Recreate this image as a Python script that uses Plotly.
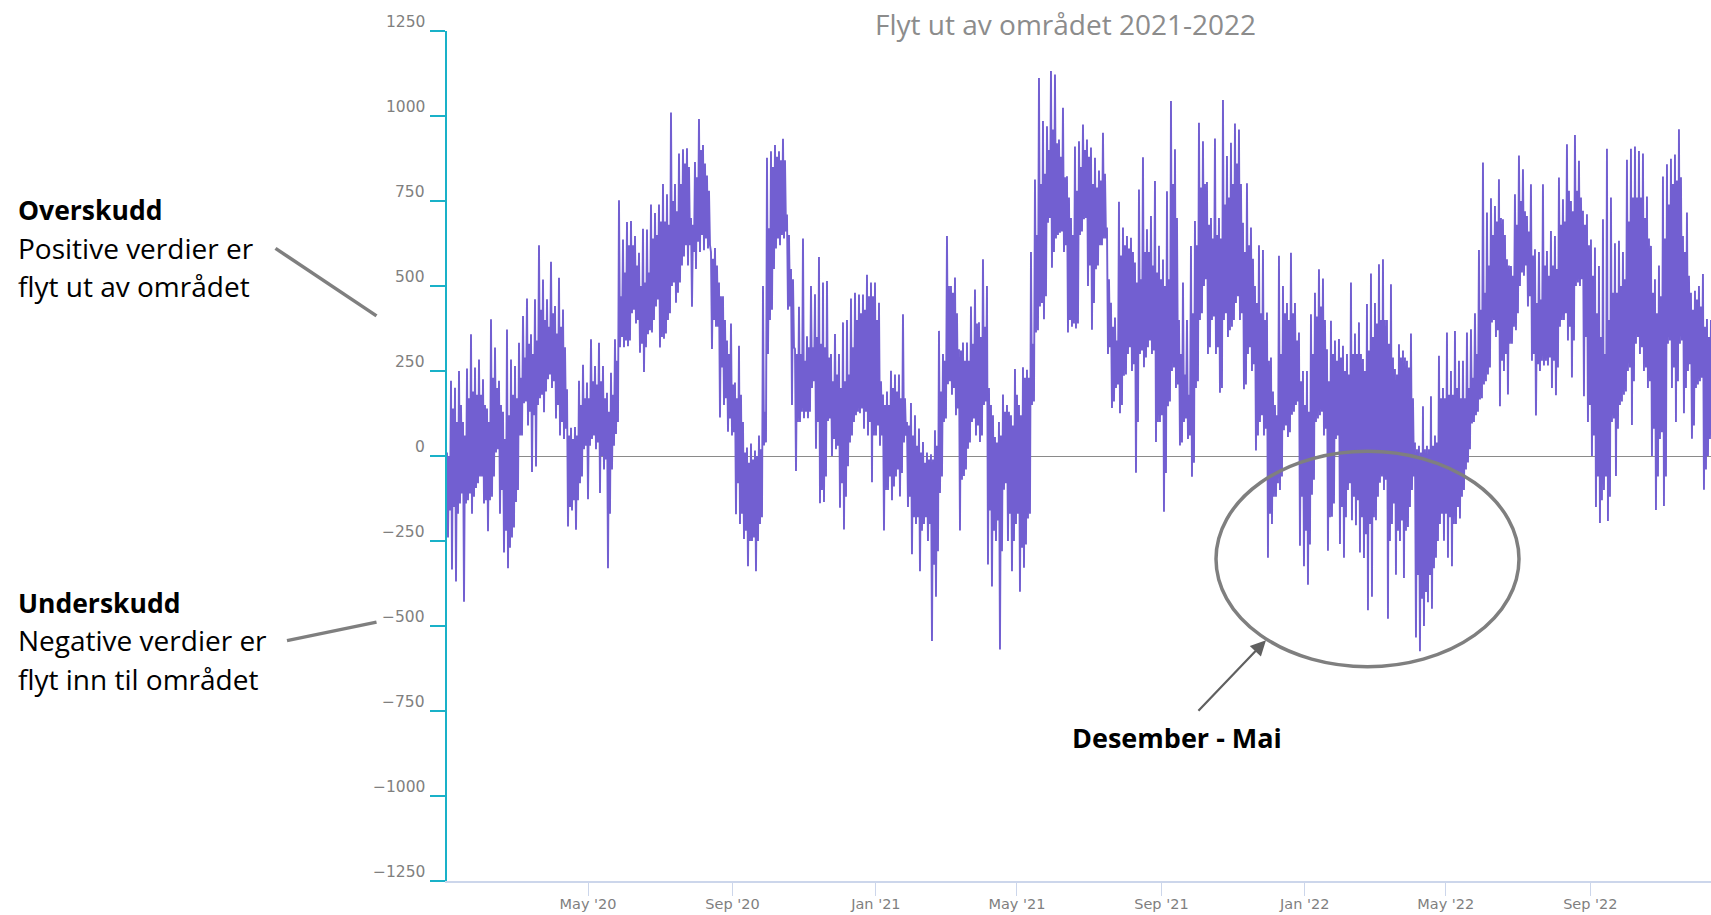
import numpy as np
import pandas as pd
import plotly.graph_objects as go

chart_title = "Flyt ut av området 2021-2022"
y_ticks = [1250, 1000, 750, 500, 250, 0, -250, -500, -750, -1000, -1250]
x_ticks = ["2020-05-01", "2020-09-01", "2021-01-01", "2021-05-01", "2021-09-01", "2022-01-01", "2022-05-01", "2022-09-01"]
x_labels = ["May '20", "Sep '20", "Jan '21", "May '21", "Sep '21", "Jan '22", "May '22", "Sep '22"]

# Spike extremes
flow_high = [
    10,221,201,250,100,257,358,260,284,226,
    140,402,319,221,130,372,284,265,333,412,
    463,358,461,620,519,461,571,441,524,431,
    196,83,85,221,268,216,343,265,333,265,
    186,245,343,752,637,688,691,647,598,668,
    666,740,715,740,800,770,1010,800,890,902,
    905,700,865,991,915,825,600,612,510,470,
    340,390,216,324,100,25,37,16,60,500,
    877,896,915,896,933,710,550,315,439,640,
    352,500,476,585,510,515,300,359,300,393,
    400,463,480,475,475,533,510,510,451,181,
    190,251,240,240,417,100,156,120,81,41,
    10,5,76,368,300,647,500,525,314,334,
    334,440,490,393,579,500,150,56,100,181,
    150,120,256,150,261,254,600,813,1112,985,
    970,1132,1122,931,1024,823,700,910,926,975,
    931,907,877,840,951,672,451,407,748,672,
    647,642,569,784,879,667,706,809,618,578,
    779,1044,902,400,510,400,618,691,980,926,
    806,700,934,700,1047,882,921,978,960,686,
    802,672,500,620,606,422,290,150,589,500,
    450,598,450,363,250,250,417,480,549,522,
    314,398,340,344,324,300,510,360,393,285,
    447,537,450,564,579,400,505,256,329,310,
    280,360,40,30,146,30,176,60,295,200,
    363,250,368,280,280,363,373,420,606,863,
    716,758,735,814,696,579,559,770,884,843,
    706,799,608,600,799,603,662,647,819,755,
    917,750,944,868,721,711,637,613,559,696,
    904,760,626,633,600,871,904,910,897,890,
    763,618,520,560,822,858,874,887,961,647,
    716,480,486,500,535,403,400,
]
flow_low = [
    -240,-334,-369,-140,-429,-130,-170,-94,-60,-140,
    -221,-120,10,-170,-284,-330,-240,-135,60,155,
    90,-47,-31,170,129,226,200,110,60,50,
    -207,-160,-217,-80,20,-127,50,20,-109,-40,
    -330,-40,65,320,320,323,420,390,304,247,
    358,363,440,319,345,400,500,451,510,587,
    560,439,550,600,605,610,315,380,113,150,
    71,60,-171,-200,-244,-324,-250,-339,-200,31,
    300,430,610,620,640,430,150,-44,100,111,
    111,200,21,-139,-135,103,0,20,-152,-216,
    -30,60,120,126,80,60,-77,60,30,-219,
    -100,-130,-60,-119,40,-150,-289,-200,-339,-200,
    -250,-544,-414,-109,100,211,180,120,-219,-59,
    21,100,60,41,150,-319,-384,-250,-569,-99,
    -250,-339,-200,-399,-329,-184,150,363,440,402,
    686,554,640,657,600,363,380,375,650,696,
    500,371,549,620,640,300,141,200,126,236,
    300,250,-49,300,261,320,300,41,100,-164,
    146,250,200,31,100,50,-61,200,400,500,
    300,400,300,186,400,350,380,450,400,196,
    300,250,16,100,60,-299,-200,-120,-100,76,
    56,121,150,-264,-324,-379,-114,100,120,60,
    -279,-179,50,-259,-299,-100,-189,-204,-284,-300,
    -454,-414,-189,-79,-100,-479,-200,-349,-250,-359,
    -209,-100,-534,-574,-500,-430,-449,-299,-200,-249,
    -299,-324,-200,-184,-100,-19,96,120,166,210,
    240,393,350,146,250,181,330,370,500,530,
    440,280,119,250,266,266,200,179,380,400,
    340,231,500,500,176,100,0,-150,-197,-100,
    -191,100,-59,150,180,250,91,330,300,250,
    200,0,-159,50,-147,330,200,100,330,126,
    250,51,200,220,-99,0,50,
]
# Edges of the solid body of the band
body_high = [
    0,140,100,150,60,170,190,180,180,150,
    100,230,200,150,50,120,180,170,230,290,
    330,300,340,430,400,380,420,360,380,320,
    60,50,60,150,170,170,220,210,220,170,
    130,180,280,470,540,620,620,560,500,510,
    540,640,650,690,690,680,750,720,800,860,
    850,680,820,900,860,780,580,560,470,400,
    300,210,170,180,10,-20,-10,0,20,130,
    670,850,880,870,870,650,520,300,300,280,
    320,320,350,330,320,290,220,240,200,220,
    240,320,400,420,430,470,470,400,220,150,
    150,200,190,170,170,90,60,30,10,-20,
    -10,-10,30,190,280,500,480,420,310,280,
    280,330,390,350,380,200,120,40,60,130,
    130,90,180,120,230,230,330,650,800,830,
    900,960,920,880,820,760,650,780,850,900,
    880,800,790,810,830,520,380,340,590,620,
    610,600,510,520,600,600,560,540,520,500,
    520,800,700,300,240,180,420,620,790,800,
    680,640,650,640,740,760,800,860,800,600,
    620,580,450,420,400,280,190,120,300,420,
    400,420,340,220,150,130,300,410,440,400,
    220,300,280,290,250,240,300,300,300,250,
    310,350,390,400,400,330,290,240,290,290,
    260,170,20,10,20,20,30,40,170,170,
    180,180,200,170,170,200,230,300,430,480,
    560,650,690,700,650,560,530,680,750,720,
    660,590,450,460,560,530,560,550,680,690,
    780,720,780,760,680,620,530,420,350,300,
    400,480,480,500,520,690,760,760,760,700,
    640,480,420,470,640,740,800,810,820,600,
    530,430,460,440,380,350,350,
]
body_low = [
    -160,-150,-170,-110,-140,-110,-120,-80,-60,-130,
    -130,-60,20,-100,-220,-270,-210,-100,60,160,
    130,120,150,180,190,240,220,150,100,80,
    -150,-130,-130,-60,30,30,60,40,0,-10,
    -170,30,100,350,340,340,430,400,330,320,
    370,400,460,350,360,420,510,480,560,620,
    620,600,630,650,640,620,400,380,260,170,
    110,70,-80,-170,-220,-250,-240,-250,-180,40,
    400,550,640,650,660,440,320,100,130,130,
    130,220,100,-100,-60,110,50,30,-80,-120,
    40,100,130,140,130,100,60,90,60,-100,
    -60,-90,-40,-50,60,-120,-180,-180,-220,-180,
    -200,-320,-280,-60,110,220,200,140,-70,-40,
    40,110,90,60,160,-160,-220,-190,-280,-80,
    -170,-250,-170,-270,-260,-170,160,370,450,470,
    700,600,650,660,620,400,390,390,660,700,
    560,450,560,620,640,320,160,210,150,240,
    320,270,100,310,290,340,310,100,120,-50,
    160,260,210,40,110,60,-20,220,420,520,
    320,410,320,200,420,370,400,470,420,210,
    320,270,60,120,80,-170,-120,-80,-60,90,
    70,130,160,-120,-220,-260,-70,110,130,80,
    -180,-140,60,-150,-180,-80,-120,-130,-180,-230,
    -200,-180,-120,-60,-70,-250,-140,-220,-190,-220,
    -150,-60,-350,-420,-400,-350,-330,-250,-170,-170,
    -180,-200,-150,-120,-40,20,100,130,170,220,
    260,400,370,280,300,330,380,420,540,560,
    470,300,270,280,280,290,280,260,400,420,
    380,340,510,520,350,150,60,-60,-130,-60,
    -120,110,80,160,190,260,220,350,320,260,
    220,80,-60,70,-60,340,260,220,340,200,
    270,90,210,230,-40,50,70,
]

values = [v for group in zip(flow_high, flow_low, body_high, body_low) for v in group]
start = pd.Timestamp("2020-01-02")
dates = start + pd.to_timedelta(np.arange(len(values)) * 0.851, unit="D")

W, H = 1711, 915
L, R, T, B = 447, 1711, 30.5, 881
def px(x): return (x - L) / (R - L)
def py(y): return (B - y) / (B - T)

TEAL = "#19b1c8"
AXIS = "#ccd6eb"
GREY = "#7f7f7f"
LABEL = "#7f7f7f"

fig = go.Figure(go.Scatter(x=dates, y=values, mode="lines",
                           line=dict(color="#725fd1", width=1.9, simplify=False),
                           hoverinfo="skip", showlegend=False))

fig.update_xaxes(range=[start, start + pd.Timedelta(days=1075.7)], tickmode="array",
                 tickvals=x_ticks, ticktext=x_labels, ticks="outside", ticklen=13, tickwidth=1,
                 tickcolor=AXIS, showline=True, linecolor=AXIS, linewidth=2, showgrid=False,
                 zeroline=False, automargin=False, ticklabelstandoff=-4,
                 tickfont=dict(family="DejaVu Sans", size=14.5, color=LABEL))
fig.update_yaxes(range=[-1250, 1250], tickmode="array", tickvals=y_ticks, showticklabels=False,
                 ticks="outside", ticklen=15, tickwidth=1.5, tickcolor=TEAL, showline=True,
                 linecolor=TEAL, linewidth=2, showgrid=False, zeroline=True, zerolinecolor="#8a8a8a",
                 zerolinewidth=1.2, automargin=False)

ann = []
for v in y_ticks:
    ann.append(dict(x=px(427), xref="paper", y=v, yref="y", yshift=9, xanchor="right", yanchor="middle",
                    showarrow=False, text=str(v).replace("-", "\u2212"),
                    font=dict(family="DejaVu Sans", size=15.5, color=LABEL)))

def txt(x, y, s, bold=False, anchor="left", size=28):
    ann.append(dict(x=px(x), y=py(y), xref="paper", yref="paper", xanchor=anchor, yanchor="middle",
                    showarrow=False, text=f"<b>{s}</b>" if bold else s,
                    font=dict(family="Open Sans", size=size, color="#000000")))

txt(16, 210, "Overskudd", True, size=26.5)
txt(16, 248, "Positive verdier er")
txt(16, 286, "flyt ut av området")
txt(16, 603, "Underskudd", True, size=26.5)
txt(16, 640, "Negative verdier er")
txt(16, 679, "flyt inn til området")
txt(1177, 737, "Desember - Mai", True, "center", size=27)
ann.append(dict(x=px(1065), y=py(23), xref="paper", yref="paper", xanchor="center", yanchor="middle",
                showarrow=False, text=chart_title, font=dict(family="Open Sans", size=28, color="#8c8c8c")))
ann.append(dict(x=px(1266), y=py(640), xref="paper", yref="paper", ax=-69, ay=72, text="", showarrow=True,
                arrowhead=2, arrowsize=1.4, arrowwidth=2.2, arrowcolor="#606060"))

shapes = [
    dict(type="line", xref="paper", yref="paper", x0=px(275.5), y0=py(248), x1=px(376.5), y1=py(315.5),
         line=dict(color=GREY, width=3.5)),
    dict(type="line", xref="paper", yref="paper", x0=px(287), y0=py(640.5), x1=px(376.5), y1=py(622),
         line=dict(color=GREY, width=3.5)),
    dict(type="circle", xref="paper", yref="paper", x0=px(1216), y0=py(666.5), x1=px(1519), y1=py(451),
         line=dict(color=GREY, width=3.5)),
]

fig.update_layout(width=W, height=H, autosize=False, margin=dict(l=L, r=0, t=T, b=H - B, pad=0),
                  paper_bgcolor="white", plot_bgcolor="white", annotations=ann, shapes=shapes)

fig.write_html("out.html", config=dict(displayModeBar=False),
               post_script="document.body.style.margin='0';document.body.style.overflow='hidden';")
